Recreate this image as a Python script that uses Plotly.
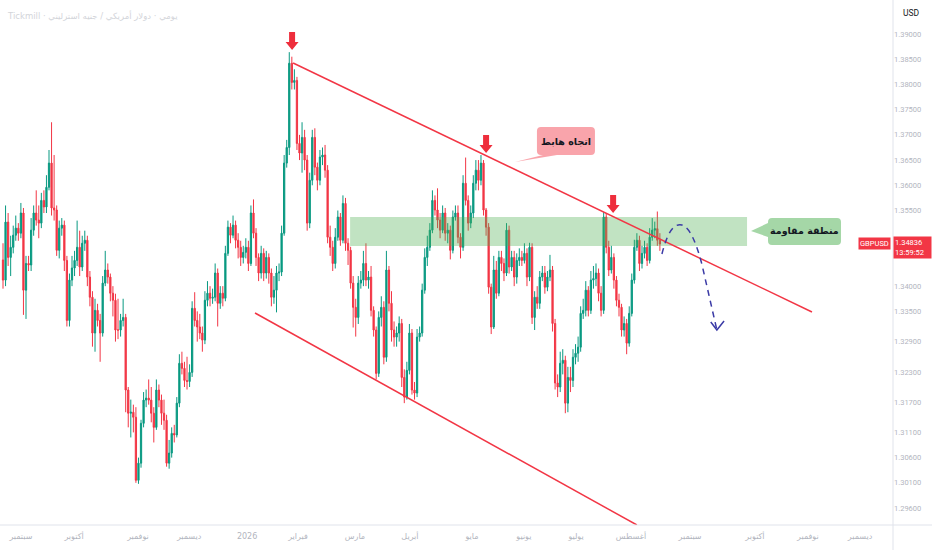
import plotly.graph_objects as go

# ---------------- data (daily GBPUSD candles) ----------------
close = [
    1.3412, 1.3527, 1.3457, 1.3477, 1.3501, 1.3515, 1.3505, 1.3545, 1.3392, 1.3445,
    1.3442, 1.3511, 1.3545, 1.3531, 1.3525, 1.3570, 1.3557, 1.3596, 1.3644, 1.3555,
    1.3551, 1.3471, 1.3515, 1.3521, 1.3451, 1.3332, 1.3412, 1.3436, 1.3451, 1.3477,
    1.3438, 1.3485, 1.3491, 1.3418, 1.3378, 1.3307, 1.3352, 1.3332, 1.3307, 1.3406,
    1.3432, 1.3418, 1.3386, 1.3372, 1.3313, 1.3313, 1.3332, 1.3338, 1.3194, 1.3148,
    1.3150, 1.3140, 1.3015, 1.3049, 1.3128, 1.3174,
    1.3178, 1.3174, 1.3148, 1.3120, 1.3194, 1.3174, 1.3148, 1.3134, 1.3049, 1.3069,
    1.3108, 1.3105, 1.3168, 1.3247, 1.3237, 1.3213, 1.3211, 1.3229, 1.3356, 1.3332,
    1.3319, 1.3307, 1.3293, 1.3372, 1.3386, 1.3376, 1.3378, 1.3426, 1.3366, 1.3386,
    1.3376, 1.3465, 1.3517, 1.3501, 1.3521, 1.3491, 1.3477, 1.3457, 1.3467, 1.3477,
    1.3445, 1.3545, 1.3505, 1.3457, 1.3426, 1.3465, 1.3426, 1.3457, 1.3426, 1.3378,
    1.3392, 1.3426, 1.3428, 1.3505, 1.3644, 1.3675,
    1.3842, 1.3804, 1.3808, 1.3683, 1.3664, 1.3695, 1.3650, 1.3525, 1.3610, 1.3695,
    1.3636, 1.3610, 1.3656, 1.3660, 1.3630, 1.3497, 1.3477, 1.3445, 1.3497, 1.3537,
    1.3491, 1.3564, 1.3485, 1.3471, 1.3406, 1.3358, 1.3338, 1.3406, 1.3412, 1.3445,
    1.3412, 1.3418, 1.3352, 1.3313, 1.3227, 1.3338, 1.3358, 1.3259, 1.3432, 1.3366,
    1.3313, 1.3299, 1.3307, 1.3326, 1.3219, 1.3180, 1.3233, 1.3307, 1.3194, 1.3188,
    1.3299, 1.3307, 1.3392, 1.3457, 1.3477,
    1.3511, 1.3570, 1.3551, 1.3531, 1.3511, 1.3545, 1.3505, 1.3511, 1.3471, 1.3537,
    1.3545, 1.3497, 1.3477, 1.3604, 1.3570, 1.3525, 1.3545, 1.3604, 1.3630, 1.3610,
    1.3644, 1.3551, 1.3517, 1.3398, 1.3319, 1.3432, 1.3386, 1.3457, 1.3445, 1.3426,
    1.3511, 1.3438, 1.3457, 1.3418, 1.3451, 1.3457, 1.3451, 1.3465, 1.3418, 1.3477,
    1.3338, 1.3378, 1.3366, 1.3418, 1.3426, 1.3398, 1.3418, 1.3432, 1.3326, 1.3208,
    1.3200, 1.3247, 1.3253, 1.3168, 1.3219,
    1.3213, 1.3259, 1.3267, 1.3279, 1.3346, 1.3352, 1.3392, 1.3352, 1.3412, 1.3415,
    1.3426, 1.3386, 1.3352, 1.3537, 1.3477, 1.3432, 1.3457, 1.3412, 1.3372, 1.3358,
    1.3313, 1.3326, 1.3287, 1.3346, 1.3412, 1.3477, 1.3491, 1.3445, 1.3465, 1.3477,
    1.3451, 1.3497, 1.3511, 1.3514, 1.3491, 1.34836,
]

high = [
    1.3485, 1.3560, 1.3545, 1.3500, 1.3520, 1.3540, 1.3525, 1.3565, 1.3555, 1.3460,
    1.3460, 1.3535, 1.3560, 1.3590, 1.3560, 1.3585, 1.3590, 1.3620, 1.3670, 1.3725,
    1.3660, 1.3560, 1.3530, 1.3535, 1.3530, 1.3460, 1.3425, 1.3460, 1.3470, 1.3530,
    1.3510, 1.3500, 1.3510, 1.3500, 1.3430, 1.3390, 1.3375, 1.3365, 1.3345, 1.3420,
    1.3470, 1.3445, 1.3425, 1.3400, 1.3385, 1.3375, 1.3345, 1.3375, 1.3345, 1.3200,
    1.3175, 1.3165, 1.3160, 1.3060, 1.3135, 1.3190,
    1.3195, 1.3215, 1.3200, 1.3160, 1.3215, 1.3205, 1.3185, 1.3175, 1.3145, 1.3095,
    1.3120, 1.3125, 1.3180, 1.3265, 1.3270, 1.3250, 1.3260, 1.3245, 1.3370, 1.3388,
    1.3350, 1.3345, 1.3320, 1.3390, 1.3410, 1.3400, 1.3395, 1.3445, 1.3435, 1.3400,
    1.3400, 1.3480, 1.3530, 1.3525, 1.3540, 1.3530, 1.3505, 1.3490, 1.3480, 1.3495,
    1.3490, 1.3560, 1.3572, 1.3515, 1.3465, 1.3480, 1.3475, 1.3470, 1.3465, 1.3435,
    1.3420, 1.3440, 1.3445, 1.3520, 1.3660, 1.3690,
    1.3864, 1.3855, 1.3830, 1.3815, 1.3700, 1.3725, 1.3710, 1.3660, 1.3625, 1.3710,
    1.3713, 1.3645, 1.3670, 1.3675, 1.3680, 1.3640, 1.3520, 1.3490, 1.3515, 1.3550,
    1.3545, 1.3580, 1.3575, 1.3495, 1.3478, 1.3420, 1.3375, 1.3420, 1.3430, 1.3470,
    1.3485, 1.3430, 1.3440, 1.3360, 1.3320, 1.3350, 1.3380, 1.3370, 1.3470, 1.3440,
    1.3390, 1.3330, 1.3320, 1.3340, 1.3335, 1.3235, 1.3250, 1.3325, 1.3315, 1.3210,
    1.3315, 1.3320, 1.3405, 1.3475, 1.3500,
    1.3525, 1.3590, 1.3580, 1.3594, 1.3545, 1.3560, 1.3555, 1.3525, 1.3520, 1.3550,
    1.3560, 1.3560, 1.3505, 1.3620, 1.3655, 1.3580, 1.3560, 1.3620, 1.3650, 1.3650,
    1.3660, 1.3650, 1.3555, 1.3525, 1.3405, 1.3460, 1.3450, 1.3470, 1.3470, 1.3455,
    1.3525, 1.3520, 1.3470, 1.3470, 1.3465, 1.3475, 1.3470, 1.3485, 1.3475, 1.3486,
    1.3485, 1.3390, 1.3400, 1.3430, 1.3440, 1.3440, 1.3430, 1.3462, 1.3440, 1.3335,
    1.3225, 1.3270, 1.3275, 1.3262, 1.3240,
    1.3240, 1.3275, 1.3285, 1.3300, 1.3360, 1.3375, 1.3410, 1.3400, 1.3430, 1.3440,
    1.3445, 1.3435, 1.3400, 1.3547, 1.3545, 1.3490, 1.3480, 1.3465, 1.3420, 1.3385,
    1.3365, 1.3340, 1.3335, 1.3360, 1.3425, 1.3492, 1.3505, 1.3500, 1.3480, 1.3490,
    1.3485, 1.3515, 1.3535, 1.3528, 1.3548, 1.3505,
]

low = [
    1.3395, 1.3400, 1.3440, 1.3420, 1.3465, 1.3490, 1.3490, 1.3495, 1.3343, 1.3335,
    1.3430, 1.3430, 1.3500, 1.3520, 1.3495, 1.3515, 1.3545, 1.3545, 1.3590, 1.3540,
    1.3530, 1.3460, 1.3455, 1.3500, 1.3430, 1.3320, 1.3320, 1.3400, 1.3420, 1.3440,
    1.3420, 1.3430, 1.3470, 1.3400, 1.3360, 1.3280, 1.3270, 1.3320, 1.3250, 1.3300,
    1.3400, 1.3405, 1.3370, 1.3340, 1.3290, 1.3295, 1.3300, 1.3320, 1.3150, 1.3120,
    1.3100, 1.3110, 1.3010, 1.3008, 1.3040, 1.3120,
    1.3160, 1.3165, 1.3130, 1.3090, 1.3115, 1.3160, 1.3125, 1.3115, 1.3042, 1.3038,
    1.3060, 1.3090, 1.3100, 1.3160, 1.3225, 1.3200, 1.3195, 1.3200, 1.3220, 1.3320,
    1.3290, 1.3295, 1.3270, 1.3285, 1.3360, 1.3360, 1.3365, 1.3370, 1.3320, 1.3355,
    1.3360, 1.3370, 1.3460, 1.3485, 1.3495, 1.3475, 1.3455, 1.3440, 1.3445, 1.3455,
    1.3430, 1.3440, 1.3495, 1.3440, 1.3410, 1.3415, 1.3410, 1.3415, 1.3405, 1.3360,
    1.3365, 1.3348, 1.3410, 1.3420, 1.3500, 1.3635,
    1.3660, 1.3790, 1.3790, 1.3670, 1.3650, 1.3625, 1.3630, 1.3510, 1.3515, 1.3600,
    1.3620, 1.3590, 1.3600, 1.3640, 1.3615, 1.3485, 1.3460, 1.3430, 1.3435, 1.3490,
    1.3480, 1.3485, 1.3470, 1.3442, 1.3395, 1.3318, 1.3300, 1.3325, 1.3395, 1.3400,
    1.3400, 1.3395, 1.3340, 1.3300, 1.3215, 1.3220, 1.3320, 1.3245, 1.3250, 1.3350,
    1.3290, 1.3280, 1.3280, 1.3290, 1.3200, 1.3168, 1.3175, 1.3225, 1.3185, 1.3175,
    1.3180, 1.3290, 1.3300, 1.3385, 1.3440,
    1.3470, 1.3505, 1.3540, 1.3515, 1.3495, 1.3505, 1.3490, 1.3485, 1.3453, 1.3465,
    1.3530, 1.3485, 1.3455, 1.3470, 1.3560, 1.3510, 1.3515, 1.3535, 1.3590, 1.3590,
    1.3600, 1.3540, 1.3500, 1.3385, 1.3305, 1.3315, 1.3375, 1.3380, 1.3430, 1.3410,
    1.3420, 1.3425, 1.3430, 1.3400, 1.3405, 1.3440, 1.3440, 1.3445, 1.3400, 1.3410,
    1.3325, 1.3313, 1.3355, 1.3355, 1.3410, 1.3385, 1.3390, 1.3410, 1.3310, 1.3195,
    1.3180, 1.3190, 1.3225, 1.3148, 1.3150,
    1.3190, 1.3200, 1.3245, 1.3250, 1.3270, 1.3335, 1.3340, 1.3340, 1.3345, 1.3395,
    1.3400, 1.3370, 1.3340, 1.3345, 1.3465, 1.3420, 1.3425, 1.3395, 1.3360, 1.3340,
    1.3300, 1.3300, 1.3265, 1.3280, 1.3340, 1.3405, 1.3470, 1.3430, 1.3435, 1.3455,
    1.3440, 1.3445, 1.3490, 1.3495, 1.3480, 1.3470,
]

first_open = 1.3452
# forex daily candles open at the prior close
open_ = [first_open] + close[:-1]
bars = list(range(len(close)))

month_labels = ["سبتمبر", "أكتوبر", "نوفمبر", "ديسمبر", "2026", "فبراير", "مارس", "أبريل",
                "مايو", "يونيو", "يوليو", "أغسطس", "سبتمبر", "أكتوبر", "نوفمبر", "ديسمبر"]
month_pos = [7.0, 27.8, 52.8, 72.8, 95.5, 115.4, 137.7, 159.2,
             183.5, 203.8, 224.2, 245.7, 268.8, 294.2, 314.9, 335.3]

price_ticks = [1.39, 1.385, 1.38, 1.375, 1.37, 1.365, 1.36, 1.355,
               1.34, 1.335, 1.329, 1.323, 1.317, 1.311, 1.306, 1.301, 1.296]

last_price = 1.34836

# ---------------- figure ----------------
GREEN = "#089981"
RED = "#f23645"

fig = go.Figure()
fig.add_trace(go.Candlestick(
    x=bars, open=open_, high=high, low=low, close=close,
    increasing=dict(line=dict(color=GREEN, width=1), fillcolor=GREEN),
    decreasing=dict(line=dict(color=RED, width=1), fillcolor=RED),
    whiskerwidth=0, hoverinfo="skip", showlegend=False,
))

shapes = []
# resistance zone
shapes.append(dict(type="rect", xref="x", yref="y", x0=135.8, x1=291.1, y0=1.34796, y1=1.35371,
                   fillcolor="rgba(76,175,80,0.35)", line=dict(width=0), layer="above"))
# descending channel
shapes.append(dict(type="line", xref="x", yref="y", x0=113.5, y0=1.38425, x1=316.5, y1=1.33487,
                   line=dict(color=RED, width=1.5), layer="above"))
shapes.append(dict(type="line", xref="x", yref="y", x0=98.6, y0=1.33468, x1=248.0, y1=1.29264,
                   line=dict(color=RED, width=1.5), layer="above"))
# projected path (blue dashed)
BLUE = "#3b3ba6"
shapes.append(dict(type="path", xref="x", yref="y",
                   path="M 257.8,1.34638 Q 260.9,1.35272 265.6,1.35213 "
                        "C 268.8,1.35173 271.5,1.34816 273.5,1.34419 L 279.3,1.33130",
                   line=dict(color=BLUE, width=1.5, dash="6px,5px"), layer="above"))
shapes.append(dict(type="path", xref="x", yref="y",
                   path="M 276.9,1.33289 L 279.3,1.33130 L 282.1,1.33309",
                   line=dict(color=BLUE, width=1.5), layer="above"))
# red down arrows at the touches
arrow_path = "M 0,0 L -6.5,8 L -3,8 L -3,18 L 3,18 L 3,8 L 6.5,8 Z"
for ax_, ay_ in [(113.1, 1.38683), (189.0, 1.36640), (238.7, 1.35451)]:
    shapes.append(dict(type="path", xref="x", yref="y", xsizemode="pixel", ysizemode="pixel",
                       xanchor=ax_, yanchor=ay_, path=arrow_path,
                       fillcolor="#ee2e3c", line=dict(width=0), layer="above"))
# callout bubbles
shapes.append(dict(type="path", xref="x", yref="y", xsizemode="pixel", ysizemode="pixel",
                   xanchor=208.9, yanchor=1.37156,
                   path="M 4,0 L 54,0 Q 58,0 58,-4 L 58,-24 Q 58,-28 54,-28 L 20,-28 L -22,-35 "
                        "L 6,-28 L 4,-28 Q 0,-28 0,-24 L 0,-4 Q 0,0 4,0 Z",
                   fillcolor="rgba(242,54,69,0.45)", line=dict(width=0), layer="above"))
shapes.append(dict(type="path", xref="x", yref="y", xsizemode="pixel", ysizemode="pixel",
                   xanchor=299.3, yanchor=1.35351,
                   path="M 4,0 L 69,0 Q 73,0 73,-4 L 73,-23 Q 73,-27 69,-27 L 4,-27 Q 0,-27 0,-23 "
                        "L 0,-19 L -17,-13 L 0,-5 L 0,-4 Q 0,0 4,0 Z",
                   fillcolor="rgba(76,175,80,0.5)", line=dict(width=0), layer="above"))
# pane separators
shapes.append(dict(type="line", xref="paper", yref="paper", x0=0, x1=932 / 893, y0=0, y1=0,
                   line=dict(color="#e0e3eb", width=1), layer="above"))
shapes.append(dict(type="line", xref="paper", yref="paper", x0=1, x1=1, y0=-25 / 525, y1=1,
                   line=dict(color="#e0e3eb", width=1), layer="above"))

annotations = [
    dict(xref="paper", yref="paper", x=0.006, y=1 - 15 / 525, xanchor="left", yanchor="middle",
         text="Tickmill · يومي · دولار أمريكي / جنيه استرليني", showarrow=False,
         font=dict(family="DejaVu Sans", size=8.5, color="#d3d5da")),
    dict(xref="x", yref="y", x=220.3, y=1.36878, text="<b>اتجاه هابط</b>", showarrow=False,
         font=dict(family="DejaVu Sans", size=9.5, color="#131722")),
    dict(xref="x", yref="y", x=313.4, y=1.35094, text="<b>منطقة مقاومة</b>", showarrow=False,
         font=dict(family="DejaVu Sans", size=9.5, color="#131722")),
    dict(xref="paper", yref="y", x=1.0, y=1.3476, xanchor="left", yanchor="middle",
         text=f"{last_price:.5f}<br>13:59:52", showarrow=False, align="left",
         bgcolor=RED, borderpad=1, width=35,
         font=dict(family="Roboto", size=7.5, color="white")),
    dict(xref="paper", yref="y", x=891 / 893, y=1.34846, xanchor="right", yanchor="middle",
         text="GBPUSD", showarrow=False, bgcolor=RED, borderpad=1,
         font=dict(family="Roboto", size=7.5, color="white")),
    dict(xref="paper", yref="paper", x=912 / 893, y=1 - 13 / 525, xanchor="center", yanchor="middle",
         text="USD", showarrow=False, font=dict(family="Roboto", size=8.5, color="#131722")),
]

fig.update_layout(
    width=932, height=550,
    margin=dict(l=0, r=39, t=0, b=25),
    paper_bgcolor="white", plot_bgcolor="white",
    showlegend=False,
    shapes=shapes, annotations=annotations,
    xaxis=dict(range=[-1.174, 348.2], rangeslider=dict(visible=False), showgrid=False,
               zeroline=False, tickmode="array", tickvals=month_pos, ticktext=month_labels,
               ticks="", showline=False, fixedrange=True, ticklabelstandoff=5,
               tickfont=dict(family="DejaVu Sans", size=8, color="#b2b5be")),
    yaxis=dict(side="right", range=[1.292637, 1.396742], tickmode="array",
               tickvals=price_ticks, ticktext=[f"{v:.5f}" for v in price_ticks],
               showgrid=False, zeroline=False, showline=False, ticks="", fixedrange=True,
               tickfont=dict(family="Roboto", size=7.5, color="#b2b5be")),
)

fig.write_html("out.html", config={"displayModeBar": False},
               post_script="document.body.style.margin='0px';document.body.style.overflow='hidden';")
